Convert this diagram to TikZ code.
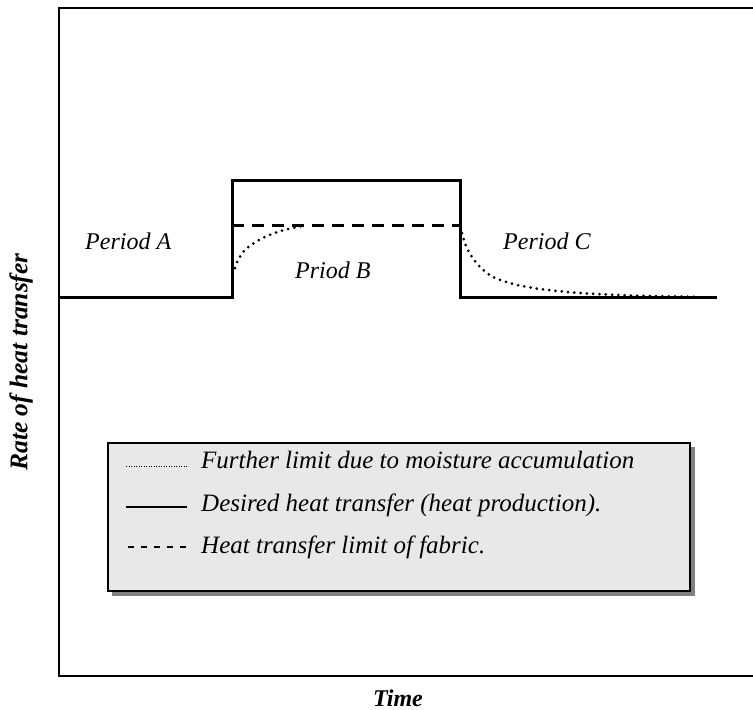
\documentclass[tikz,border=0pt]{standalone}
\usepackage{fontspec}
\setmainfont{Liberation Serif}
\begin{document}
\begin{tikzpicture}[x=1pt,y=-1pt,
  lbl/.style={font=\fontsize{24}{28}\selectfont\itshape, inner sep=0pt, anchor=base west},
  axlbl/.style={font=\fontsize{24}{28}\selectfont\bfseries\itshape, inner sep=0pt},
  legtxt/.style={font=\fontsize{25}{28}\selectfont\itshape, inner sep=0pt, anchor=base west},
  desired/.style={line width=3pt, line join=miter},
  fabric/.style={line width=3pt, dash pattern=on 12pt off 8pt},
  moist/.style={line width=3pt, line cap=round, dash pattern=on 0pt off 6.3pt},
  legbox/.style={draw=black, line width=1.5pt, fill=black!9},
  legshadow/.style={fill=black!50, draw=none},
  frame/.style={line width=2pt}
]
\useasboundingbox (0,0) rectangle (753,710);

% frame
\coordinate (ftr) at (753,8);
\coordinate (ftl) at (59,8);
\coordinate (fbl) at (59,676);
\coordinate (fbr) at (753,676);
\draw[frame] (ftr) -- (ftl) -- (fbl) -- (fbr);

% desired heat transfer
\coordinate (d0) at (59,297);
\coordinate (d1) at (232,297);
\coordinate (d2) at (232,180);
\coordinate (d3) at (460,180);
\coordinate (d4) at (460,297);
\coordinate (d5) at (717,297);
\draw[desired] (d0) -- (d1) -- (d2) -- (d3) -- (d4) -- (d5);

% fabric limit
\coordinate (f0) at (232,225.5);
\coordinate (f1) at (460,225.5);
\draw[fabric] (f0) -- (f1);

% moisture limit
\draw[moist] plot[smooth] coordinates {(235,268) (238,260) (244,251) (254,243) (267,236) (284,230) (303,226)};
\draw[moist] plot[smooth] coordinates {(462,233) (466,246) (472,257) (480,267) (493,277) (513,284) (540,289) (573,292.5) (607,294.5) (640,295.8) (697,296.8)};

% labels
\node[lbl] (pa) at (85,249) {Period A};
\node[lbl] (pb) at (295,278) {Priod B};
\node[lbl] (pc) at (503,249) {Period C};

\node[axlbl, anchor=base] (xl) at (398,706) {Time};
\node[axlbl, rotate=90, font=\fontsize{25.5}{28}\selectfont\bfseries\itshape] (yl) at (21,362) {Rate of heat transfer};

% legend
\fill[legshadow] (112,447) rectangle (695,596);
\node[legbox, minimum width=582pt, minimum height=148pt, inner sep=0pt, anchor=north west] (leg) at (107,442) {};
\coordinate (s1a) at (126,466); \coordinate (s1b) at (187,466);
\coordinate (s2a) at (126,507); \coordinate (s2b) at (187,507);
\coordinate (s3a) at (128,547); \coordinate (s3b) at (187,547);
\draw[line width=1pt, dash pattern=on 1pt off 1.5pt] (s1a) -- (s1b);
\draw[line width=2.5pt] (s2a) -- (s2b);
\draw[line width=2pt, dash pattern=on 6pt off 7pt] (s3a) -- (s3b);
\node[legtxt] (t1) at (201,468) {Further limit due to moisture accumulation};
\node[legtxt] (t2) at (201,511) {Desired heat transfer (heat production).};
\node[legtxt] (t3) at (201,553) {Heat transfer limit of fabric.};
\end{tikzpicture}
\end{document}
